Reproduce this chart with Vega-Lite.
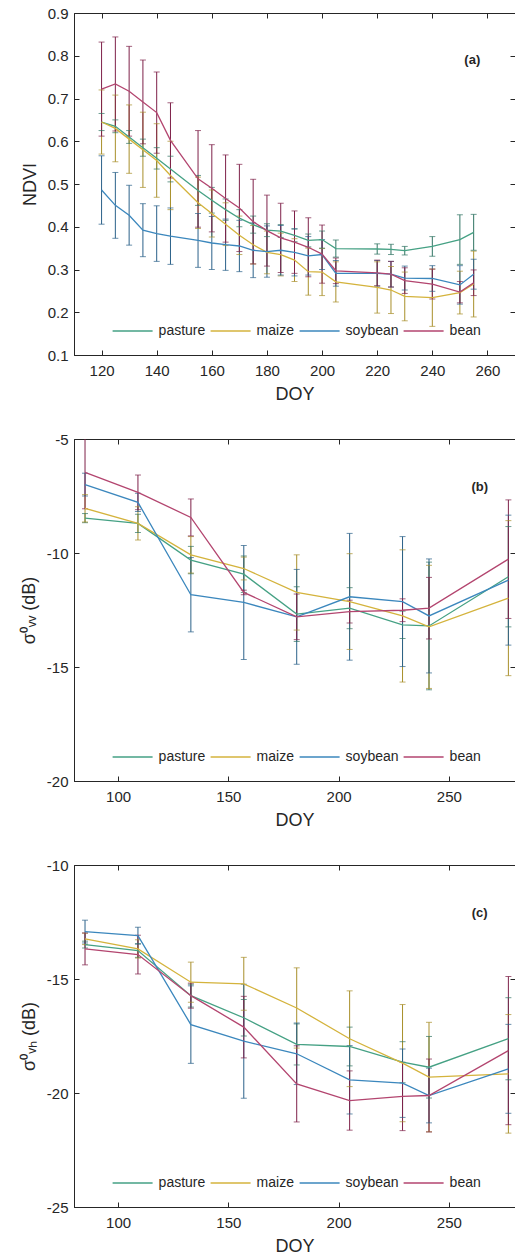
{
  "$schema": "https://vega.github.io/schema/vega-lite/v6.json",
  "padding": {"left": 19, "top": 5, "right": 0, "bottom": 0},
  "background": "white",
  "config": {
    "font": "Liberation Sans",
    "view": {"stroke": "#262626", "strokeWidth": 1},
    "axis": {"labelColor": "#262626", "titleColor": "#262626", "domainColor": "#262626", "tickColor": "#262626", "labelFontSize": 15, "titleFontSize": 18, "titleFontWeight": "normal", "grid": false, "tickSize": -5},
    "axisX": {"labelPadding": 13, "titlePadding": 7},
    "axisY": {"labelPadding": 11, "titlePadding": 8},
    "text": {"font": "Liberation Sans"}
  },
  "datasets": {
    "ndvi": [
      {"crop":"pasture","doy":120,"mean":0.645,"lo":0.625,"hi":0.665},
      {"crop":"pasture","doy":125,"mean":0.635,"lo":0.62,"hi":0.65},
      {"crop":"pasture","doy":130,"mean":0.61,"lo":0.595,"hi":0.625},
      {"crop":"pasture","doy":135,"mean":0.585,"lo":0.565,"hi":0.605},
      {"crop":"pasture","doy":140,"mean":0.56,"lo":0.535,"hi":0.585},
      {"crop":"pasture","doy":145,"mean":0.535,"lo":0.505,"hi":0.565},
      {"crop":"pasture","doy":155,"mean":0.485,"lo":0.45,"hi":0.52},
      {"crop":"pasture","doy":160,"mean":0.462,"lo":0.432,"hi":0.492},
      {"crop":"pasture","doy":165,"mean":0.44,"lo":0.415,"hi":0.465},
      {"crop":"pasture","doy":170,"mean":0.42,"lo":0.4,"hi":0.44},
      {"crop":"pasture","doy":175,"mean":0.405,"lo":0.385,"hi":0.425},
      {"crop":"pasture","doy":180,"mean":0.392,"lo":0.377,"hi":0.407},
      {"crop":"pasture","doy":185,"mean":0.39,"lo":0.375,"hi":0.405},
      {"crop":"pasture","doy":190,"mean":0.38,"lo":0.365,"hi":0.395},
      {"crop":"pasture","doy":195,"mean":0.368,"lo":0.353,"hi":0.383},
      {"crop":"pasture","doy":200,"mean":0.37,"lo":0.35,"hi":0.39},
      {"crop":"pasture","doy":205,"mean":0.349,"lo":0.329,"hi":0.369},
      {"crop":"pasture","doy":220,"mean":0.348,"lo":0.336,"hi":0.36},
      {"crop":"pasture","doy":225,"mean":0.347,"lo":0.335,"hi":0.359},
      {"crop":"pasture","doy":230,"mean":0.344,"lo":0.334,"hi":0.354},
      {"crop":"pasture","doy":240,"mean":0.354,"lo":0.331,"hi":0.377},
      {"crop":"pasture","doy":250,"mean":0.37,"lo":0.312,"hi":0.428},
      {"crop":"pasture","doy":255,"mean":0.387,"lo":0.345,"hi":0.429},
      {"crop":"maize","doy":120,"mean":0.645,"lo":0.57,"hi":0.72},
      {"crop":"maize","doy":125,"mean":0.63,"lo":0.552,"hi":0.708},
      {"crop":"maize","doy":130,"mean":0.605,"lo":0.525,"hi":0.685},
      {"crop":"maize","doy":135,"mean":0.58,"lo":0.492,"hi":0.668},
      {"crop":"maize","doy":140,"mean":0.555,"lo":0.469,"hi":0.641},
      {"crop":"maize","doy":145,"mean":0.52,"lo":0.44,"hi":0.6},
      {"crop":"maize","doy":155,"mean":0.456,"lo":0.396,"hi":0.516},
      {"crop":"maize","doy":160,"mean":0.431,"lo":0.376,"hi":0.486},
      {"crop":"maize","doy":165,"mean":0.406,"lo":0.356,"hi":0.456},
      {"crop":"maize","doy":170,"mean":0.38,"lo":0.335,"hi":0.425},
      {"crop":"maize","doy":175,"mean":0.358,"lo":0.313,"hi":0.403},
      {"crop":"maize","doy":180,"mean":0.34,"lo":0.29,"hi":0.39},
      {"crop":"maize","doy":185,"mean":0.335,"lo":0.285,"hi":0.385},
      {"crop":"maize","doy":190,"mean":0.322,"lo":0.272,"hi":0.372},
      {"crop":"maize","doy":195,"mean":0.295,"lo":0.24,"hi":0.35},
      {"crop":"maize","doy":200,"mean":0.294,"lo":0.239,"hi":0.349},
      {"crop":"maize","doy":205,"mean":0.271,"lo":0.224,"hi":0.318},
      {"crop":"maize","doy":220,"mean":0.258,"lo":0.198,"hi":0.318},
      {"crop":"maize","doy":225,"mean":0.252,"lo":0.197,"hi":0.307},
      {"crop":"maize","doy":230,"mean":0.237,"lo":0.18,"hi":0.294},
      {"crop":"maize","doy":240,"mean":0.234,"lo":0.167,"hi":0.301},
      {"crop":"maize","doy":250,"mean":0.246,"lo":0.196,"hi":0.296},
      {"crop":"maize","doy":255,"mean":0.266,"lo":0.189,"hi":0.343},
      {"crop":"soybean","doy":120,"mean":0.486,"lo":0.406,"hi":0.566},
      {"crop":"soybean","doy":125,"mean":0.45,"lo":0.373,"hi":0.527},
      {"crop":"soybean","doy":130,"mean":0.427,"lo":0.357,"hi":0.497},
      {"crop":"soybean","doy":135,"mean":0.392,"lo":0.33,"hi":0.454},
      {"crop":"soybean","doy":140,"mean":0.384,"lo":0.319,"hi":0.449},
      {"crop":"soybean","doy":145,"mean":0.378,"lo":0.312,"hi":0.444},
      {"crop":"soybean","doy":155,"mean":0.368,"lo":0.305,"hi":0.431},
      {"crop":"soybean","doy":160,"mean":0.362,"lo":0.3,"hi":0.424},
      {"crop":"soybean","doy":165,"mean":0.358,"lo":0.298,"hi":0.418},
      {"crop":"soybean","doy":170,"mean":0.355,"lo":0.295,"hi":0.415},
      {"crop":"soybean","doy":175,"mean":0.345,"lo":0.281,"hi":0.409},
      {"crop":"soybean","doy":180,"mean":0.342,"lo":0.282,"hi":0.402},
      {"crop":"soybean","doy":185,"mean":0.345,"lo":0.287,"hi":0.403},
      {"crop":"soybean","doy":190,"mean":0.34,"lo":0.285,"hi":0.395},
      {"crop":"soybean","doy":195,"mean":0.332,"lo":0.287,"hi":0.377},
      {"crop":"soybean","doy":200,"mean":0.335,"lo":0.3,"hi":0.37},
      {"crop":"soybean","doy":205,"mean":0.291,"lo":0.261,"hi":0.321},
      {"crop":"soybean","doy":220,"mean":0.291,"lo":0.261,"hi":0.321},
      {"crop":"soybean","doy":225,"mean":0.289,"lo":0.259,"hi":0.319},
      {"crop":"soybean","doy":230,"mean":0.28,"lo":0.252,"hi":0.308},
      {"crop":"soybean","doy":240,"mean":0.279,"lo":0.249,"hi":0.309},
      {"crop":"soybean","doy":250,"mean":0.264,"lo":0.219,"hi":0.309},
      {"crop":"soybean","doy":255,"mean":0.289,"lo":0.254,"hi":0.324},
      {"crop":"bean","doy":120,"mean":0.722,"lo":0.612,"hi":0.832},
      {"crop":"bean","doy":125,"mean":0.734,"lo":0.624,"hi":0.844},
      {"crop":"bean","doy":130,"mean":0.717,"lo":0.612,"hi":0.822},
      {"crop":"bean","doy":135,"mean":0.692,"lo":0.594,"hi":0.79},
      {"crop":"bean","doy":140,"mean":0.667,"lo":0.572,"hi":0.762},
      {"crop":"bean","doy":145,"mean":0.602,"lo":0.514,"hi":0.69},
      {"crop":"bean","doy":155,"mean":0.512,"lo":0.399,"hi":0.625},
      {"crop":"bean","doy":160,"mean":0.49,"lo":0.388,"hi":0.592},
      {"crop":"bean","doy":165,"mean":0.466,"lo":0.364,"hi":0.568},
      {"crop":"bean","doy":170,"mean":0.444,"lo":0.342,"hi":0.546},
      {"crop":"bean","doy":175,"mean":0.412,"lo":0.313,"hi":0.511},
      {"crop":"bean","doy":180,"mean":0.391,"lo":0.308,"hi":0.474},
      {"crop":"bean","doy":185,"mean":0.374,"lo":0.293,"hi":0.455},
      {"crop":"bean","doy":190,"mean":0.364,"lo":0.291,"hi":0.437},
      {"crop":"bean","doy":195,"mean":0.352,"lo":0.283,"hi":0.421},
      {"crop":"bean","doy":200,"mean":0.336,"lo":0.268,"hi":0.404},
      {"crop":"bean","doy":205,"mean":0.297,"lo":0.267,"hi":0.327},
      {"crop":"bean","doy":220,"mean":0.292,"lo":0.262,"hi":0.322},
      {"crop":"bean","doy":225,"mean":0.289,"lo":0.259,"hi":0.319},
      {"crop":"bean","doy":230,"mean":0.274,"lo":0.244,"hi":0.304},
      {"crop":"bean","doy":240,"mean":0.266,"lo":0.231,"hi":0.301},
      {"crop":"bean","doy":250,"mean":0.247,"lo":0.222,"hi":0.272},
      {"crop":"bean","doy":255,"mean":0.269,"lo":0.239,"hi":0.299}
    ],
    "vv": [
      {"crop":"pasture","doy":85,"mean":-8.47,"lo":-8.67,"hi":-8.27},
      {"crop":"pasture","doy":109,"mean":-8.7,"lo":-9.1,"hi":-8.3},
      {"crop":"pasture","doy":133,"mean":-10.31,"lo":-10.91,"hi":-9.71},
      {"crop":"pasture","doy":157,"mean":-10.93,"lo":-11.73,"hi":-10.13},
      {"crop":"pasture","doy":181,"mean":-12.68,"lo":-13.88,"hi":-11.48},
      {"crop":"pasture","doy":205,"mean":-12.42,"lo":-13.32,"hi":-11.52},
      {"crop":"pasture","doy":229,"mean":-13.15,"lo":-13.75,"hi":-12.55},
      {"crop":"pasture","doy":241,"mean":-13.2,"lo":-16.0,"hi":-10.4},
      {"crop":"pasture","doy":277,"mean":-11.04,"lo":-13.24,"hi":-8.84},
      {"crop":"maize","doy":85,"mean":-8.04,"lo":-8.64,"hi":-7.44},
      {"crop":"maize","doy":109,"mean":-8.7,"lo":-9.43,"hi":-7.97},
      {"crop":"maize","doy":133,"mean":-10.08,"lo":-10.88,"hi":-9.28},
      {"crop":"maize","doy":157,"mean":-10.68,"lo":-11.18,"hi":-10.18},
      {"crop":"maize","doy":181,"mean":-11.73,"lo":-13.38,"hi":-10.08},
      {"crop":"maize","doy":205,"mean":-12.13,"lo":-14.23,"hi":-10.03},
      {"crop":"maize","doy":229,"mean":-12.76,"lo":-15.66,"hi":-9.86},
      {"crop":"maize","doy":241,"mean":-13.24,"lo":-15.94,"hi":-10.54},
      {"crop":"maize","doy":277,"mean":-11.98,"lo":-15.38,"hi":-8.58},
      {"crop":"soybean","doy":85,"mean":-7.0,"lo":-7.5,"hi":-6.5},
      {"crop":"soybean","doy":109,"mean":-7.78,"lo":-8.18,"hi":-7.38},
      {"crop":"soybean","doy":133,"mean":-11.83,"lo":-13.46,"hi":-10.2},
      {"crop":"soybean","doy":157,"mean":-12.17,"lo":-14.67,"hi":-9.67},
      {"crop":"soybean","doy":181,"mean":-12.8,"lo":-14.88,"hi":-10.72},
      {"crop":"soybean","doy":205,"mean":-11.92,"lo":-14.7,"hi":-9.14},
      {"crop":"soybean","doy":229,"mean":-12.13,"lo":-14.98,"hi":-9.28},
      {"crop":"soybean","doy":241,"mean":-12.76,"lo":-15.26,"hi":-10.26},
      {"crop":"soybean","doy":277,"mean":-11.19,"lo":-14.04,"hi":-8.34},
      {"crop":"bean","doy":85,"mean":-6.46,"lo":-8.06,"hi":-4.86},
      {"crop":"bean","doy":109,"mean":-7.34,"lo":-8.1,"hi":-6.58},
      {"crop":"bean","doy":133,"mean":-8.44,"lo":-9.25,"hi":-7.63},
      {"crop":"bean","doy":157,"mean":-11.73,"lo":-11.83,"hi":-11.63},
      {"crop":"bean","doy":181,"mean":-12.8,"lo":-13.8,"hi":-11.8},
      {"crop":"bean","doy":205,"mean":-12.57,"lo":-13.07,"hi":-12.07},
      {"crop":"bean","doy":229,"mean":-12.51,"lo":-13.01,"hi":-12.01},
      {"crop":"bean","doy":241,"mean":-12.42,"lo":-13.77,"hi":-11.07},
      {"crop":"bean","doy":277,"mean":-10.27,"lo":-12.87,"hi":-7.67}
    ],
    "vh": [
      {"crop":"pasture","doy":85,"mean":-13.49,"lo":-13.64,"hi":-13.34},
      {"crop":"pasture","doy":109,"mean":-13.75,"lo":-14.05,"hi":-13.45},
      {"crop":"pasture","doy":133,"mean":-15.73,"lo":-16.23,"hi":-15.23},
      {"crop":"pasture","doy":157,"mean":-16.7,"lo":-17.5,"hi":-15.9},
      {"crop":"pasture","doy":181,"mean":-17.87,"lo":-18.77,"hi":-16.97},
      {"crop":"pasture","doy":205,"mean":-17.96,"lo":-18.81,"hi":-17.11},
      {"crop":"pasture","doy":229,"mean":-18.65,"lo":-19.55,"hi":-17.75},
      {"crop":"pasture","doy":241,"mean":-18.87,"lo":-20.22,"hi":-17.52},
      {"crop":"pasture","doy":277,"mean":-17.62,"lo":-19.42,"hi":-15.82},
      {"crop":"maize","doy":85,"mean":-13.24,"lo":-13.49,"hi":-12.99},
      {"crop":"maize","doy":109,"mean":-13.68,"lo":-14.08,"hi":-13.28},
      {"crop":"maize","doy":133,"mean":-15.14,"lo":-16.02,"hi":-14.26},
      {"crop":"maize","doy":157,"mean":-15.21,"lo":-16.37,"hi":-14.05},
      {"crop":"maize","doy":181,"mean":-16.27,"lo":-18.03,"hi":-14.51},
      {"crop":"maize","doy":205,"mean":-17.62,"lo":-19.72,"hi":-15.52},
      {"crop":"maize","doy":229,"mean":-18.69,"lo":-21.26,"hi":-16.12},
      {"crop":"maize","doy":241,"mean":-19.3,"lo":-21.7,"hi":-16.9},
      {"crop":"maize","doy":277,"mean":-19.16,"lo":-21.76,"hi":-16.56},
      {"crop":"soybean","doy":85,"mean":-12.92,"lo":-13.42,"hi":-12.42},
      {"crop":"soybean","doy":109,"mean":-13.1,"lo":-13.47,"hi":-12.73},
      {"crop":"soybean","doy":133,"mean":-17.0,"lo":-18.7,"hi":-15.3},
      {"crop":"soybean","doy":157,"mean":-17.73,"lo":-20.23,"hi":-15.23},
      {"crop":"soybean","doy":181,"mean":-18.28,"lo":-19.63,"hi":-16.93},
      {"crop":"soybean","doy":205,"mean":-19.42,"lo":-20.92,"hi":-17.92},
      {"crop":"soybean","doy":229,"mean":-19.57,"lo":-21.07,"hi":-18.07},
      {"crop":"soybean","doy":241,"mean":-20.11,"lo":-21.31,"hi":-18.91},
      {"crop":"soybean","doy":277,"mean":-18.94,"lo":-20.89,"hi":-16.99},
      {"crop":"bean","doy":85,"mean":-13.68,"lo":-14.38,"hi":-12.98},
      {"crop":"bean","doy":109,"mean":-13.93,"lo":-14.78,"hi":-13.08},
      {"crop":"bean","doy":133,"mean":-15.73,"lo":-16.28,"hi":-15.18},
      {"crop":"bean","doy":157,"mean":-17.11,"lo":-18.46,"hi":-15.76},
      {"crop":"bean","doy":181,"mean":-19.6,"lo":-21.27,"hi":-17.93},
      {"crop":"bean","doy":205,"mean":-20.33,"lo":-21.63,"hi":-19.03},
      {"crop":"bean","doy":229,"mean":-20.15,"lo":-21.65,"hi":-18.65},
      {"crop":"bean","doy":241,"mean":-20.11,"lo":-21.71,"hi":-18.51},
      {"crop":"bean","doy":277,"mean":-18.14,"lo":-21.39,"hi":-14.89}
    ]
  },
  "vconcat": [
    {
      "width": 441, "height": 342,
      "data": {"name": "ndvi"},
      "layer": [
        {"mark": {"type": "rule", "strokeWidth": 1, "clip": true},
         "encoding": {
           "x": {"field": "doy", "type": "quantitative", "scale": {"domain": [110, 270], "nice": false}, "axis": {"orient": "top", "labels": false, "title": null, "values": [120,140,160,180,200,220,240,260], "domain": false}},
           "y": {"field": "lo", "type": "quantitative", "scale": {"domain": [0.1, 0.9], "nice": false}, "axis": {"orient": "right", "labels": false, "title": null, "values": [0.1,0.2,0.3,0.4,0.5,0.6,0.7,0.8,0.9], "domain": false}},
           "y2": {"field": "hi"},
           "color": {"field": "crop", "type": "nominal", "scale": {"domain": ["pasture","maize","soybean","bean"], "range": ["#2f7462","#a88f2a","#2b6189","#7e2149"]}, "legend": null}
         }},
        {"mark": {"type": "tick", "orient": "horizontal", "size": 6, "thickness": 1, "clip": true},
         "encoding": {
           "x": {"field": "doy", "type": "quantitative", "axis": null},
           "y": {"field": "hi", "type": "quantitative", "axis": null},
           "color": {"field": "crop", "type": "nominal", "scale": {"domain": ["pasture","maize","soybean","bean"], "range": ["#2f7462","#a88f2a","#2b6189","#7e2149"]}, "legend": null}
         }},
        {"mark": {"type": "tick", "orient": "horizontal", "size": 6, "thickness": 1, "clip": true},
         "encoding": {
           "x": {"field": "doy", "type": "quantitative", "axis": null},
           "y": {"field": "lo", "type": "quantitative", "axis": null},
           "color": {"field": "crop", "type": "nominal", "scale": {"domain": ["pasture","maize","soybean","bean"], "range": ["#2f7462","#a88f2a","#2b6189","#7e2149"]}, "legend": null}
         }},
        {"mark": {"type": "line", "strokeWidth": 1.3, "clip": true},
         "encoding": {
           "x": {"field": "doy", "type": "quantitative", "axis": {"orient": "bottom", "title": "DOY", "values": [120,140,160,180,200,220,240,260]}},
           "y": {"field": "mean", "type": "quantitative", "axis": {"orient": "left", "title": "NDVI", "format": ".1f", "values": [0.1,0.2,0.3,0.4,0.5,0.6,0.7,0.8,0.9]}},
           "color": {"field": "crop", "type": "nominal", "scale": {"domain": ["pasture","maize","soybean","bean"], "range": ["#45a184","#d4b33c","#3b87bd","#b3456f"]},
             "legend": {"orient": "none", "legendX": 37.6, "legendY": 297, "direction": "horizontal", "title": null, "symbolType": "stroke", "symbolSize": 1600, "symbolStrokeWidth": 1.5, "labelFontSize": 14, "labelOffset": 5, "columnPadding": 2, "padding": 0, "labelColor": "#262626"}}
         }},
        {"data": {"values": [{"doy": 254.5, "v": 0.79, "t": "(a)"}]},
         "mark": {"type": "text", "fontWeight": "bold", "fontSize": 13, "color": "#262626"},
         "encoding": {
           "x": {"field": "doy", "type": "quantitative", "axis": null},
           "y": {"field": "v", "type": "quantitative", "axis": null},
           "text": {"field": "t"}
         }}
      ],
      "resolve": {"axis": {"x": "independent", "y": "independent"}, "scale": {"color": "independent"}}
    },
    {
      "width": 441, "height": 342,
      "data": {"name": "vv"},
      "layer": [
        {"mark": {"type": "rule", "strokeWidth": 1, "clip": true},
         "encoding": {
           "x": {"field": "doy", "type": "quantitative", "scale": {"domain": [80, 280], "nice": false}, "axis": {"orient": "top", "labels": false, "title": null, "values": [100,150,200,250], "domain": false}},
           "y": {"field": "lo", "type": "quantitative", "scale": {"domain": [-20, -5], "nice": false}, "axis": {"orient": "right", "labels": false, "title": null, "values": [-20,-15,-10,-5], "domain": false}},
           "y2": {"field": "hi"},
           "color": {"field": "crop", "type": "nominal", "scale": {"domain": ["pasture","maize","soybean","bean"], "range": ["#2f7462","#a88f2a","#2b6189","#7e2149"]}, "legend": null}
         }},
        {"mark": {"type": "tick", "orient": "horizontal", "size": 6, "thickness": 1, "clip": true},
         "encoding": {
           "x": {"field": "doy", "type": "quantitative", "axis": null},
           "y": {"field": "hi", "type": "quantitative", "axis": null},
           "color": {"field": "crop", "type": "nominal", "scale": {"domain": ["pasture","maize","soybean","bean"], "range": ["#2f7462","#a88f2a","#2b6189","#7e2149"]}, "legend": null}
         }},
        {"mark": {"type": "tick", "orient": "horizontal", "size": 6, "thickness": 1, "clip": true},
         "encoding": {
           "x": {"field": "doy", "type": "quantitative", "axis": null},
           "y": {"field": "lo", "type": "quantitative", "axis": null},
           "color": {"field": "crop", "type": "nominal", "scale": {"domain": ["pasture","maize","soybean","bean"], "range": ["#2f7462","#a88f2a","#2b6189","#7e2149"]}, "legend": null}
         }},
        {"mark": {"type": "line", "strokeWidth": 1.3, "clip": true},
         "encoding": {
           "x": {"field": "doy", "type": "quantitative", "axis": {"orient": "bottom", "title": "DOY", "values": [100,150,200,250]}},
           "y": {"field": "mean", "type": "quantitative", "axis": {"orient": "left", "title": "σ⁰ᵥᵥ (dB)", "values": [-20,-15,-10,-5], "labelExpr": "replace(datum.label, '−', '-')"}},
           "color": {"field": "crop", "type": "nominal", "scale": {"domain": ["pasture","maize","soybean","bean"], "range": ["#45a184","#d4b33c","#3b87bd","#b3456f"]},
             "legend": {"orient": "none", "legendX": 37.6, "legendY": 297, "direction": "horizontal", "title": null, "symbolType": "stroke", "symbolSize": 1600, "symbolStrokeWidth": 1.5, "labelFontSize": 14, "labelOffset": 5, "columnPadding": 2, "padding": 0, "labelColor": "#262626"}}
         }},
        {"data": {"values": [{"doy": 264, "v": -7.12, "t": "(b)"}]},
         "mark": {"type": "text", "fontWeight": "bold", "fontSize": 13, "color": "#262626"},
         "encoding": {
           "x": {"field": "doy", "type": "quantitative", "axis": null},
           "y": {"field": "v", "type": "quantitative", "axis": null},
           "text": {"field": "t"}
         }}
      ],
      "resolve": {"axis": {"x": "independent", "y": "independent"}, "scale": {"color": "independent"}}
    },
    {
      "width": 441, "height": 342,
      "data": {"name": "vh"},
      "layer": [
        {"mark": {"type": "rule", "strokeWidth": 1, "clip": true},
         "encoding": {
           "x": {"field": "doy", "type": "quantitative", "scale": {"domain": [80, 280], "nice": false}, "axis": {"orient": "top", "labels": false, "title": null, "values": [100,150,200,250], "domain": false}},
           "y": {"field": "lo", "type": "quantitative", "scale": {"domain": [-25, -10], "nice": false}, "axis": {"orient": "right", "labels": false, "title": null, "values": [-25,-20,-15,-10], "domain": false}},
           "y2": {"field": "hi"},
           "color": {"field": "crop", "type": "nominal", "scale": {"domain": ["pasture","maize","soybean","bean"], "range": ["#2f7462","#a88f2a","#2b6189","#7e2149"]}, "legend": null}
         }},
        {"mark": {"type": "tick", "orient": "horizontal", "size": 6, "thickness": 1, "clip": true},
         "encoding": {
           "x": {"field": "doy", "type": "quantitative", "axis": null},
           "y": {"field": "hi", "type": "quantitative", "axis": null},
           "color": {"field": "crop", "type": "nominal", "scale": {"domain": ["pasture","maize","soybean","bean"], "range": ["#2f7462","#a88f2a","#2b6189","#7e2149"]}, "legend": null}
         }},
        {"mark": {"type": "tick", "orient": "horizontal", "size": 6, "thickness": 1, "clip": true},
         "encoding": {
           "x": {"field": "doy", "type": "quantitative", "axis": null},
           "y": {"field": "lo", "type": "quantitative", "axis": null},
           "color": {"field": "crop", "type": "nominal", "scale": {"domain": ["pasture","maize","soybean","bean"], "range": ["#2f7462","#a88f2a","#2b6189","#7e2149"]}, "legend": null}
         }},
        {"mark": {"type": "line", "strokeWidth": 1.3, "clip": true},
         "encoding": {
           "x": {"field": "doy", "type": "quantitative", "axis": {"orient": "bottom", "title": "DOY", "values": [100,150,200,250]}},
           "y": {"field": "mean", "type": "quantitative", "axis": {"orient": "left", "title": "σ⁰ᵥₕ (dB)", "values": [-25,-20,-15,-10], "labelExpr": "replace(datum.label, '−', '-')"}},
           "color": {"field": "crop", "type": "nominal", "scale": {"domain": ["pasture","maize","soybean","bean"], "range": ["#45a184","#d4b33c","#3b87bd","#b3456f"]},
             "legend": {"orient": "none", "legendX": 37.6, "legendY": 297, "direction": "horizontal", "title": null, "symbolType": "stroke", "symbolSize": 1600, "symbolStrokeWidth": 1.5, "labelFontSize": 14, "labelOffset": 5, "columnPadding": 2, "padding": 0, "labelColor": "#262626"}}
         }},
        {"data": {"values": [{"doy": 264, "v": -12.12, "t": "(c)"}]},
         "mark": {"type": "text", "fontWeight": "bold", "fontSize": 13, "color": "#262626"},
         "encoding": {
           "x": {"field": "doy", "type": "quantitative", "axis": null},
           "y": {"field": "v", "type": "quantitative", "axis": null},
           "text": {"field": "t"}
         }}
      ],
      "resolve": {"axis": {"x": "independent", "y": "independent"}, "scale": {"color": "independent"}}
    }
  ],
  "spacing": 84,
  "bounds": "flush"
}
